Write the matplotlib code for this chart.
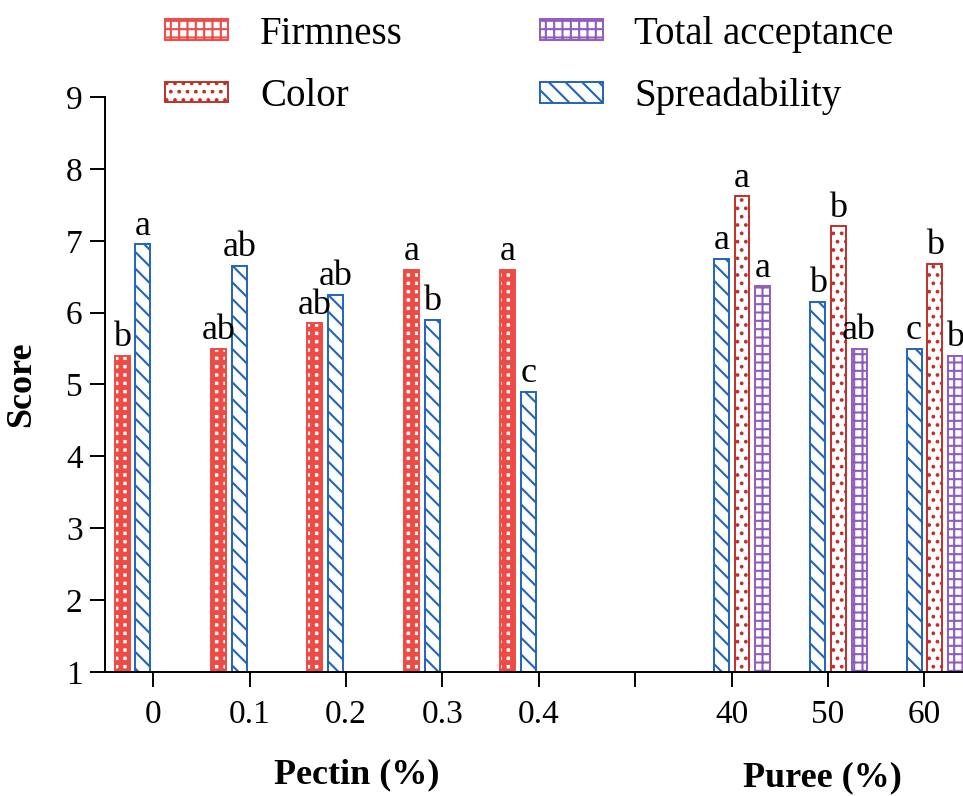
import numpy as np
import matplotlib
matplotlib.use("Agg")
import matplotlib.pyplot as plt

plt.rcParams['font.family'] = ['Liberation Serif', 'DejaVu Serif']

# data
tick_labels = ['0', '0.1', '0.2', '0.3', '0.4', '', '40', '50', '60']
pectin_pos = [0, 1, 2, 3, 4]
puree_pos = [6, 7, 8]

firmness = [5.4, 5.5, 5.85, 6.6, 6.6]
spread_pectin = [6.95, 6.65, 6.25, 5.9, 4.9]
spread_puree = [6.75, 6.15, 5.5]
color_puree = [7.62, 7.2, 6.68]
total_puree = [6.37, 5.5, 5.4]

firmness_sig = ['b', 'ab', 'ab', 'a', 'a']
spread_pectin_sig = ['a', 'ab', 'ab', 'b', 'c']
spread_puree_sig = ['a', 'b', 'c']
color_sig = ['a', 'b', 'b']
total_sig = ['a', 'ab', 'b']

RED = '#EE4B45'
DARKRED = '#C0302B'
PURPLE = '#8F5CBF'
BLUE = '#2063C0'

w = 0.155
step = 0.215
off = {'firm': -1.5 * step, 'spread': -0.5 * step, 'color': 0.5 * step, 'total': 1.5 * step}

fig, ax = plt.subplots(figsize=(9.63, 7.96), dpi=100)
fig.subplots_adjust(left=0.109, right=1.0, bottom=0.156, top=0.878)


def draw(pos, vals, key, sig, label, hlw, **style):
    x = np.array(pos) + off[key]
    bars = ax.bar(x, vals, width=w, label=label, linewidth=1.4, **style)
    for p in bars.patches:
        if hasattr(p, 'set_hatch_linewidth'):
            p.set_hatch_linewidth(hlw)
    for b, v, s in zip(bars, vals, sig):
        ax.text(b.get_x() + b.get_width() / 2, v + 0.02, s, ha='center', va='bottom', fontsize=26)
    return bars


b_firm = draw(pectin_pos, firmness, 'firm', firmness_sig, 'Firmness', 3.5,
              facecolor='white', edgecolor=RED, hatch='++')
b_sp1 = draw(pectin_pos, spread_pectin, 'spread', spread_pectin_sig, 'Spreadability', 1.5,
             facecolor='white', edgecolor=BLUE, hatch='\\\\')
b_sp2 = draw(puree_pos, spread_puree, 'spread', spread_puree_sig, None, 1.5,
             facecolor='white', edgecolor=BLUE, hatch='\\\\')
b_col = draw(puree_pos, color_puree, 'color', color_sig, 'Color', 1.5,
             facecolor='white', edgecolor=DARKRED, hatch='..')
b_tot = draw(puree_pos, total_puree, 'total', total_sig, 'Total acceptance', 1.5,
             facecolor='white', edgecolor=PURPLE, hatch='++')

ax.set_ylim(1, 9)
ax.set_xlim(-0.5, 8.4)
ax.set_yticks(range(1, 10))
ax.set_xticks(range(len(tick_labels)))
ax.set_xticklabels(tick_labels)
ax.tick_params(axis='both', labelsize=24, length=11, width=1.4, direction='out')
ax.tick_params(axis='x', pad=9)
ax.tick_params(axis='y', pad=5)
ax.spines['top'].set_visible(False)
ax.spines['right'].set_visible(False)
ax.spines['left'].set_linewidth(1.4)
ax.spines['bottom'].set_linewidth(1.4)

ax.set_ylabel('Score', fontsize=26, fontweight='bold', labelpad=20)
ax.text(2.11, -0.18, 'Pectin (%)', transform=ax.get_xaxis_transform(),
        ha='center', va='center', fontsize=26, fontweight='bold')
ax.text(6.94, -0.185, 'Puree (%)', transform=ax.get_xaxis_transform(),
        ha='center', va='center', fontsize=26, fontweight='bold')

handles = [b_firm, b_col, b_tot, b_sp1]
labels = ['Firmness', 'Color', 'Total acceptance', 'Spreadability']
leg = ax.legend(handles, labels, ncol=2, frameon=False, fontsize=28,
                loc='upper left', bbox_to_anchor=(0.07, 1.142),
                handlelength=1.62, handleheight=0.44, handletextpad=0.82,
                labelspacing=0.65, columnspacing=3.52, borderaxespad=0, borderpad=0)
for h in leg.legend_handles:
    if hasattr(h, 'set_hatch_linewidth'):
        h.set_hatch_linewidth(3.5 if h.get_label() == 'Firmness' else 1.5)

fig.savefig('out.png', dpi=100)
